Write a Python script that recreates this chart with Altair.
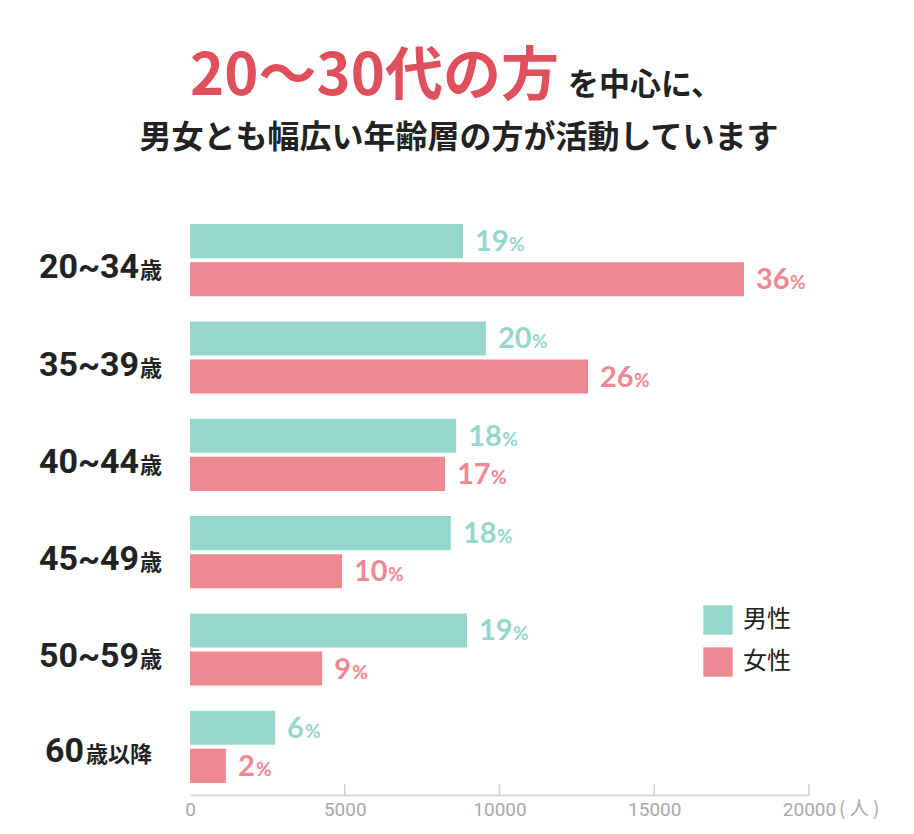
import altair as alt
import pandas as pd

# ---- data ----
ages = ["20~34歳", "35~39歳", "40~44歳", "45~49歳", "50~59歳", "60歳以降"]
age_main = ["20~34", "35~39", "40~44", "45~49", "50~59", "60"]
age_suffix = ["歳", "歳", "歳", "歳", "歳", "歳以降"]
sexes = ["男性", "女性"]
male_count = [8820, 9560, 8600, 8430, 8950, 2750]
female_count = [17900, 12860, 8240, 4910, 4270, 1160]
male_pct = [19, 20, 18, 18, 19, 6]
female_pct = [36, 26, 17, 10, 9, 2]
x_ticks = [0, 5000, 10000, 15000, 20000]

TEAL = "#95D8CB"
PINK = "#EE8891"
RED = "#E0505C"
DARK = "#222222"
GRAY = "#A8A8A8"
LINE = "#CFCFCF"

rows = []
for i, a in enumerate(ages):
    rows.append({"age": a, "sex": "男性", "count": male_count[i], "pct": male_pct[i]})
    rows.append({"age": a, "sex": "女性", "count": female_count[i], "pct": female_pct[i]})
df = pd.DataFrame(rows)
df_age = pd.DataFrame({"age": ages, "main": age_main, "suffix": age_suffix,
                       "idx": list(range(len(ages)))})
df_ticks = pd.DataFrame({"t": x_ticks[1:]})

W, H = 619, 583

xscale = alt.Scale(domain=[0, 20000], nice=False)
yenc = alt.Y("age:N", sort=ages, axis=None,
             scale=alt.Scale(paddingInner=0.258, paddingOuter=0.124))
yoff = alt.YOffset("sex:N", sort=sexes, scale=alt.Scale(paddingInner=0.105))
fill_enc = alt.Fill("sex:N", scale=alt.Scale(domain=sexes, range=[TEAL, PINK]), legend=None)

bars = alt.Chart(df).mark_bar().encode(
    x=alt.X("count:Q", scale=xscale, title=None,
            axis=alt.Axis(values=x_ticks, format="d", ticks=False, grid=False,
                          domainColor=LINE, domainWidth=1.5, labelColor=GRAY,
                          labelFontSize=19, labelFont="Roboto", labelPadding=5,
                          labelFlush=False)),
    y=yenc,
    yOffset=yoff,
    color=alt.Color("sex:N", scale=alt.Scale(domain=sexes, range=[TEAL, PINK]),
                    legend=alt.Legend(title=None, orient="none", legendX=513, legendY=393,
                                      symbolType="square", symbolSize=860,
                                      symbolStrokeWidth=0, symbolOpacity=1,
                                      labelFontSize=24, labelFont="Noto Sans CJK JP",
                                      labelColor=DARK, labelOffset=10, rowPadding=12,
                                      padding=0)),
)

num_labels = alt.Chart(df).mark_text(
    align="left", baseline="alphabetic", dx=12, dy=10, fontSize=29,
    fontWeight="bold", font="Lato"
).encode(x=alt.X("count:Q", scale=xscale), y=yenc, yOffset=yoff,
         text="pct:Q", fill=fill_enc)

pct2 = alt.Chart(df).transform_filter("datum.pct >= 10").mark_text(
    align="left", baseline="alphabetic", dx=46, dy=10, fontSize=19,
    fontWeight="bold", font="Lato", text="%"
).encode(x=alt.X("count:Q", scale=xscale), y=yenc, yOffset=yoff, fill=fill_enc)

pct1 = alt.Chart(df).transform_filter("datum.pct < 10").mark_text(
    align="left", baseline="alphabetic", dx=30, dy=10, fontSize=19,
    fontWeight="bold", font="Lato", text="%"
).encode(x=alt.X("count:Q", scale=xscale), y=yenc, yOffset=yoff, fill=fill_enc)

ylab_main_a = alt.Chart(df_age).transform_filter("datum.idx < 5").mark_text(
    align="right", baseline="alphabetic", dy=18, fontSize=34, fontWeight="bold",
    font="Roboto", color=DARK
).encode(x=alt.value(-51), y=yenc, text="main:N")
ylab_suf_a = alt.Chart(df_age).transform_filter("datum.idx < 5").mark_text(
    align="left", baseline="alphabetic", dy=18, fontSize=22, fontWeight="bold",
    font="Noto Sans CJK JP", color=DARK
).encode(x=alt.value(-50), y=yenc, text="suffix:N")
ylab_main_b = alt.Chart(df_age).transform_filter("datum.idx == 5").mark_text(
    align="right", baseline="alphabetic", dy=15, fontSize=34, fontWeight="bold",
    font="Roboto", color=DARK
).encode(x=alt.value(-106), y=yenc, text="main:N")
ylab_suf_b = alt.Chart(df_age).transform_filter("datum.idx == 5").mark_text(
    align="left", baseline="alphabetic", dy=15, fontSize=22, fontWeight="bold",
    font="Noto Sans CJK JP", color=DARK
).encode(x=alt.value(-104), y=yenc, text="suffix:N")

ticks = alt.Chart(df_ticks).mark_rule(color=LINE, strokeWidth=1.5).encode(
    x=alt.X("t:Q", scale=xscale), y=alt.value(H - 11), y2=alt.value(H))

unit = alt.Chart(df_ticks).transform_filter("datum.t == 20000").mark_text(
    align="left", baseline="middle", dx=30, fontSize=19, font="Noto Sans CJK JP",
    color=GRAY, text="( 人 )"
).encode(x=alt.X("t:Q", scale=xscale), y=alt.value(H + 14))

title_red = alt.Chart(df_ticks).transform_filter("datum.t == 20000").mark_text(
    align="right", baseline="alphabetic", fontSize=58, fontWeight="bold",
    font="Noto Sans CJK JP", color=RED, text="20〜30代の方"
).encode(x=alt.value(369), y=alt.value(-117))
title_black = alt.Chart(df_ticks).transform_filter("datum.t == 20000").mark_text(
    align="left", baseline="alphabetic", fontSize=31, fontWeight="bold",
    font="Noto Sans CJK JP", color=DARK, text="を中心に、"
).encode(x=alt.value(378), y=alt.value(-117))
title_line2 = alt.Chart(df_ticks).transform_filter("datum.t == 20000").mark_text(
    align="center", baseline="alphabetic", fontSize=32, fontWeight="bold",
    font="Noto Sans CJK JP", color=DARK, text="男女とも幅広い年齢層の方が活動しています"
).encode(x=alt.value(269), y=alt.value(-64))

chart = alt.layer(
    bars, num_labels, pct2, pct1, ylab_main_a, ylab_suf_a, ylab_main_b, ylab_suf_b,
    ticks, unit, title_red, title_black, title_line2
).properties(
    width=W, height=H,
    padding={"left": 182, "top": 204, "right": 97, "bottom": 30},
    autosize=alt.AutoSizeParams(type="none"),
).configure_view(stroke=None)

chart.save("out.html", embed_options={"renderer": "svg", "actions": False})
